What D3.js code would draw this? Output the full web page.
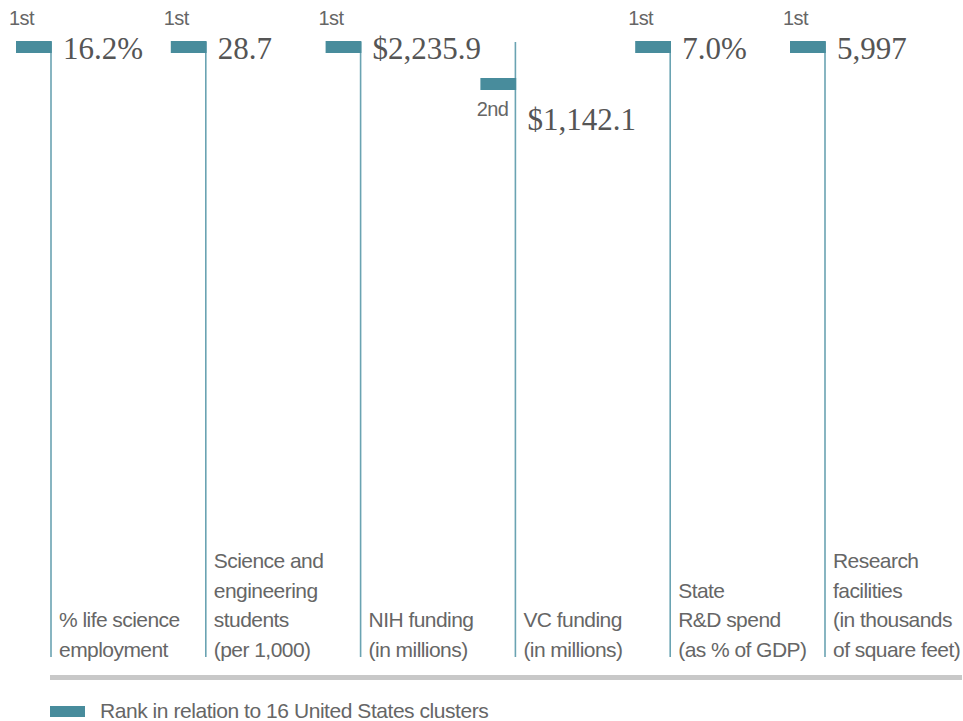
<!DOCTYPE html>
<html>
<head>
<meta charset="utf-8">
<script src="https://cdn.jsdelivr.net/npm/d3@7"></script>
<style>
  body { margin: 0; background: #fff; }
  svg { display: block; }
</style>
</head>
<body>
<script>
// Life science cluster scorecard: rank markers on vertical stems

const metrics = [
  ["% life science", "employment"],
  ["Science and", "engineering", "students", "(per 1,000)"],
  ["NIH funding", "(in millions)"],
  ["VC funding", "(in millions)"],
  ["State", "R&D spend", "(as % of GDP)"],
  ["Research", "facilities", "(in thousands", "of square feet)"]
];
const values = ["16.2%", "28.7", "$2,235.9", "$1,142.1", "7.0%", "5,997"];
const ranks = [1, 1, 1, 2, 1, 1];
const rankLabels = { 1: "1st", 2: "2nd" };
const legendText = "Rank in relation to 16 United States clusters";

const width = 963;
const height = 721;

const teal = "#488c9c";
const stemColor = "#6aa3b2";
const labelColor = "#666";
const valueColor = "#555";

const svg = d3.select("body").append("svg")
  .attr("width", width)
  .attr("height", height);

const ids = metrics.map((d, i) => i);
const x = d3.scalePoint().domain(ids).range([51, 825]);
const y = d3.scaleLinear().domain([1, 2]).range([41, 78]);

const stemBottom = 657;
const barW = 35;
const barH = 12;
const lineH = 29.6;

const col = svg.selectAll("g.col")
  .data(ids)
  .join("g")
  .attr("class", "col")
  .attr("transform", (i) => `translate(${x(i)},0)`);

// stems
col.append("line")
  .attr("x1", 0).attr("x2", 0)
  .attr("y1", 42)
  .attr("y2", stemBottom)
  .attr("stroke", stemColor)
  .attr("stroke-width", 1.6);

// rank bars
col.append("rect")
  .attr("x", -barW)
  .attr("y", (i) => y(ranks[i]))
  .attr("width", barW + 0.8)
  .attr("height", barH)
  .attr("fill", teal);

// rank labels: above the bar for 1st, below for lower ranks
col.append("text")
  .attr("x", (i) => (ranks[i] === 1 ? -42 : -7))
  .attr("y", (i) => (ranks[i] === 1 ? y(ranks[i]) - 16 : y(ranks[i]) + 38))
  .attr("text-anchor", (i) => (ranks[i] === 1 ? "start" : "end"))
  .style("font-family", "'Liberation Sans', Arial, sans-serif")
  .style("font-size", "20px")
  .style("letter-spacing", "-0.6px")
  .attr("fill", labelColor)
  .text((i) => rankLabels[ranks[i]]);

// values
col.append("text")
  .attr("x", 12)
  .attr("y", (i) => (ranks[i] === 1 ? y(ranks[i]) + 18 : y(ranks[i]) + 52))
  .style("font-family", "'Liberation Serif', 'Times New Roman', serif")
  .style("font-size", "31px")
  .attr("fill", valueColor)
  .text((i) => values[i]);

// metric labels, bottom-aligned to the stem end
col.each(function (i) {
  const lines = metrics[i];
  const t = d3.select(this).append("text")
    .attr("x", 8)
    .style("font-family", "'Liberation Sans', Arial, sans-serif")
    .style("font-size", "21px")
    .style("letter-spacing", "-0.55px")
    .attr("fill", labelColor);
  lines.forEach((line, k) => {
    t.append("tspan")
      .attr("x", 8)
      .attr("y", stemBottom - (lines.length - 1 - k) * lineH)
      .text(line);
  });
});

// baseline rule
svg.append("rect")
  .attr("x", 50)
  .attr("y", 675)
  .attr("width", 912)
  .attr("height", 5)
  .attr("fill", "#c8c8c8");

// legend
const legend = svg.append("g").attr("transform", "translate(50,706)");
legend.append("rect")
  .attr("width", 35)
  .attr("height", 11)
  .attr("fill", teal);
legend.append("text")
  .attr("x", 50)
  .attr("y", 11.5)
  .style("font-family", "'Liberation Sans', Arial, sans-serif")
  .style("font-size", "21px")
  .style("letter-spacing", "-0.45px")
  .attr("fill", labelColor)
  .text(legendText);
</script>
</body>
</html>
